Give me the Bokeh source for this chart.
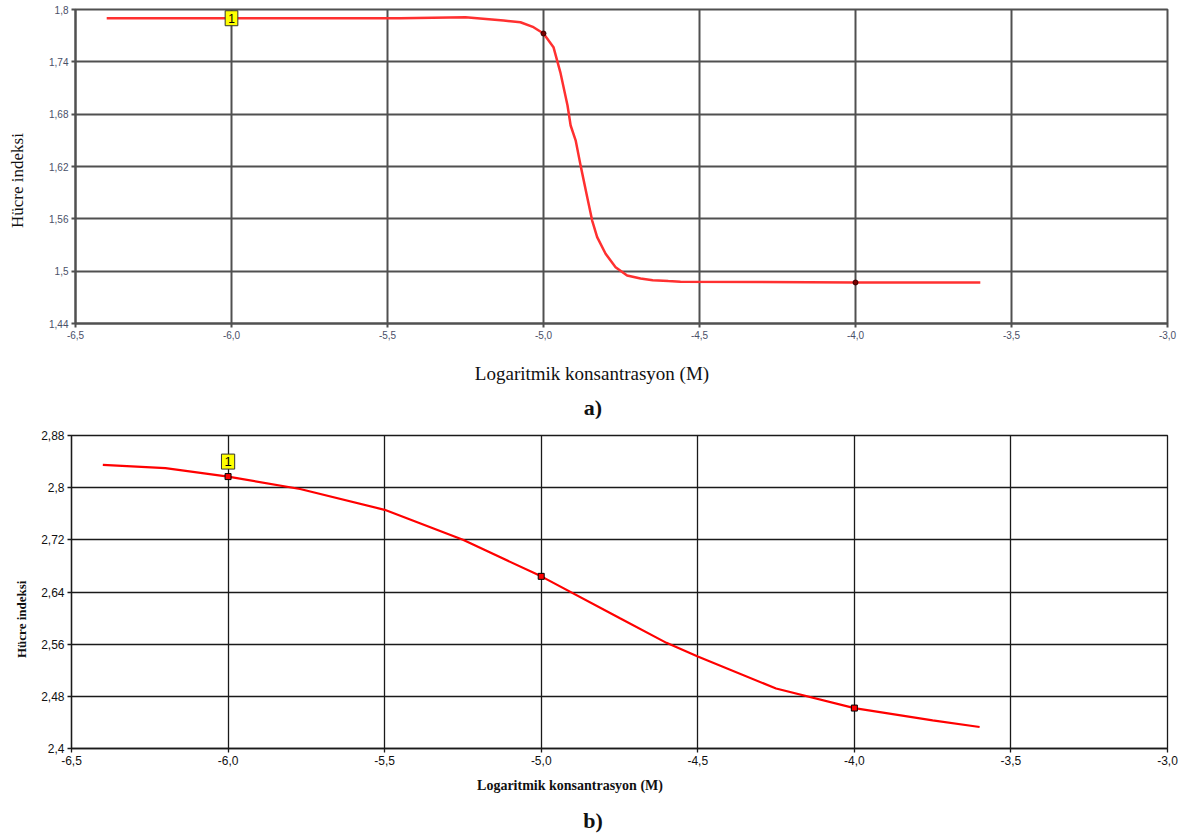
from bokeh.plotting import figure
from bokeh.layouts import column, row
from bokeh.models import Label, FixedTicker, CustomJSTickFormatter, Div
from bokeh.embed import file_html
from bokeh.resources import INLINE

# ---- data ----
# chart a) fitted curve
a_curve_x = [-6.40, -6.0, -5.46, -5.25, -5.128, -5.074, -5.032, -5.0, -4.968, -4.946, -4.923,
             -4.913, -4.897, -4.881, -4.860, -4.844, -4.828, -4.801, -4.769, -4.732, -4.689,
             -4.65, -4.60, -4.561, -4.0, -3.6]
a_curve_y = [1.790, 1.790, 1.790, 1.791, 1.7874, 1.7854, 1.7797, 1.7725, 1.7568, 1.728, 1.690,
             1.667, 1.650, 1.621, 1.585, 1.558, 1.539, 1.520, 1.5046, 1.495, 1.4915,
             1.4895, 1.4886, 1.4880, 1.487, 1.487]
a_pts_x = [-6.0, -5.0, -4.0]
a_pts_y = [1.790, 1.7725, 1.487]

# chart b) fitted curve
b_curve_x = [-6.4, -6.2, -6.0, -5.77, -5.5, -5.25, -5.0, -4.75, -4.6, -4.5, -4.25, -4.0, -3.75, -3.6]
b_curve_y = [2.835, 2.830, 2.817, 2.798, 2.766, 2.720, 2.664, 2.600, 2.562, 2.541, 2.492, 2.462, 2.443, 2.433]
b_pts_x = [-6.0, -5.0, -4.0]
b_pts_y = [2.817, 2.664, 2.462]

x_ticks = [-6.5, -6.0, -5.5, -5.0, -4.5, -4.0, -3.5, -3.0]
a_y_ticks = [1.44, 1.5, 1.56, 1.62, 1.68, 1.74, 1.8]
b_y_ticks = [2.4, 2.48, 2.56, 2.64, 2.72, 2.8, 2.88]

x_title = "Logaritmik konsantrasyon (M)"
y_title = "Hücre indeksi"

xfmt = "return tick.toFixed(1).replace('.', ',');"
yfmt = "return String(Math.round(tick*100)/100).replace('.', ',');"


def style(p, yticks, grid_color, grid_w, lab_color, lab_size, lab_font):
    p.xaxis.ticker = FixedTicker(ticks=x_ticks)
    p.yaxis.ticker = FixedTicker(ticks=yticks)
    p.xaxis.formatter = CustomJSTickFormatter(code=xfmt)
    p.yaxis.formatter = CustomJSTickFormatter(code=yfmt)
    for ax in (p.xaxis, p.yaxis):
        ax.minor_tick_line_color = None
        ax.major_tick_out = 4
        ax.major_tick_in = 0
        ax.major_tick_line_color = grid_color
        ax.major_tick_line_width = grid_w
        ax.axis_line_color = grid_color
        ax.axis_line_width = grid_w
        ax.major_label_text_color = lab_color
        ax.major_label_text_font_size = lab_size
        ax.major_label_text_font = lab_font
        ax.major_label_standoff = 3
    p.xgrid.grid_line_color = grid_color
    p.ygrid.grid_line_color = grid_color
    p.xgrid.grid_line_width = grid_w
    p.ygrid.grid_line_width = grid_w
    p.outline_line_color = grid_color
    p.outline_line_width = grid_w
    p.background_fill_color = "white"
    p.border_fill_color = "white"


def hdiv(text, h, size, weight, dx=0, dy=0):
    html = ('<div style="width:1180px;height:%dpx;text-align:center;line-height:%dpx;'
            "font-family:'Liberation Serif',serif;font-size:%dpx;font-weight:%s;color:#111;"
            'white-space:nowrap;transform:translate(%dpx,%dpx);">%s</div>'
            % (h, h, size, weight, dx, dy, text))
    return Div(text=html, width=1180, height=h, margin=0)


def vdiv(text, w, h, size, weight, dx=0, dy=0):
    html = ('<div style="width:%dpx;height:%dpx;writing-mode:vertical-rl;text-align:center;'
            "line-height:%dpx;font-family:'Liberation Serif',serif;font-size:%dpx;font-weight:%s;"
            'color:#111;white-space:nowrap;transform:translate(%dpx,%dpx) rotate(180deg);">%s</div>'
            % (w, h, w, size, weight, dx, dy, text))
    return Div(text=html, width=w, height=h, margin=0)


# ---- chart a) ----
p1 = figure(width=1144, height=350, x_range=(-6.5, -3.0), y_range=(1.44, 1.8),
            output_backend="svg", toolbar_location=None,
            min_border_left=39, min_border_right=13, min_border_top=9, min_border_bottom=27)
style(p1, a_y_ticks, "#505050", 2, "#4a5068", "10px", "Liberation Sans")
p1.line(a_curve_x, a_curve_y, line_color="#ff3030", line_width=2.5)
p1.scatter(a_pts_x[1:], a_pts_y[1:], marker="circle", size=5, fill_color="#7a0000", line_color="#330000")
p1.add_layout(Label(x=a_pts_x[0], y=a_pts_y[0], text="1", text_align="center", text_baseline="middle",
                    text_font="Liberation Sans", text_font_size="12px", text_color="black",
                    background_fill_color="#ffff00", border_line_color="#333333", border_line_width=1,
                    padding=3))

# ---- chart b) ----
p2 = figure(width=1142, height=354, x_range=(-6.5, -3.0), y_range=(2.4, 2.88),
            output_backend="svg", toolbar_location=None,
            min_border_left=32, min_border_right=13, min_border_top=17, min_border_bottom=24)
style(p2, b_y_ticks, "#1a1a1a", 1.3, "#111111", "12px", "Liberation Sans")
p2.line(b_curve_x, b_curve_y, line_color="#ff0000", line_width=2.2)
p2.scatter(b_pts_x, b_pts_y, marker="square", size=6, fill_color="#ff0000", line_color="black")
p2.add_layout(Label(x=b_pts_x[0], y=b_pts_y[0], y_offset=15, text="1", text_align="center",
                    text_baseline="middle", text_font="Liberation Sans", text_font_size="13px",
                    text_color="black", background_fill_color="#ffff00", border_line_color="#333333",
                    border_line_width=1, padding=3))

layout = column(
    row(vdiv(y_title, 36, 350, 17, "normal", 0, 6), p1, spacing=0),
    hdiv(x_title, 48, 19, "normal", 2, 0),
    hdiv("a)", 20, 22, "bold", 3, 0),
    row(vdiv(y_title, 38, 354, 13, "bold", 3, 24), p2, spacing=0),
    hdiv(x_title, 28, 14, "bold", -20, 0),
    hdiv("b)", 36, 22, "bold", 3, 3),
    spacing=0,
)
open("out.html", "w").write(file_html(layout, INLINE))
